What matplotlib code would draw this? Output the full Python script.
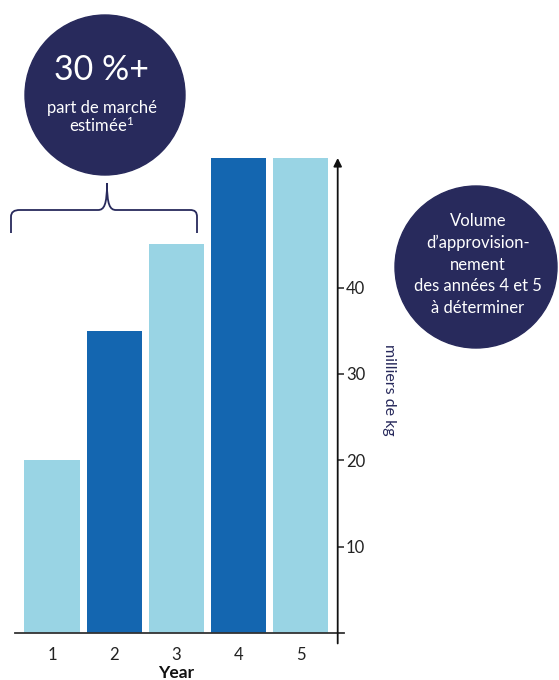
import matplotlib.pyplot as plt
from matplotlib.patches import Circle, PathPatch
from matplotlib.path import Path

plt.rcParams['font.family'] = ['Lato', 'DejaVu Sans']
plt.rcParams['mathtext.fontset'] = 'custom'
plt.rcParams['mathtext.rm'] = 'Lato'
plt.rcParams['mathtext.it'] = 'Lato:italic'
plt.rcParams['mathtext.bf'] = 'Lato:bold'

# data
years = [1, 2, 3, 4, 5]
year_labels = ['1', '2', '3', '4', '5']
volumes = [20, 35, 45, 55, 55]          # milliers de kg
ytick_vals = [10, 20, 30, 40]

LIGHT = '#99D4E4'
DARK = '#1466B0'
NAVY = '#282A5C'
bar_colors = [LIGHT, DARK, LIGHT, DARK, LIGHT]

W, H = 559, 680
fig = plt.figure(figsize=(W / 100, H / 100), dpi=100)

# main bar axes (pixel box: x 14.8..337.7, y 158..633)
ax = fig.add_axes([14.8 / W, (H - 633) / H, 322.9 / W, 475 / H])
ax.bar(years, volumes, width=0.89, color=bar_colors)
ax.set_xlim(0.4, 5.6)
ax.set_ylim(0, 55)

for s in ax.spines.values():
    s.set_visible(False)

# axes lines: baseline and right axis with arrow
ax.plot([0, 1.018], [0, 0], color='#333333', lw=1.3, transform=ax.transAxes, clip_on=False)
ax.annotate('', xy=(1, 1.0), xytext=(1, -0.022), xycoords='axes fraction',
            arrowprops=dict(arrowstyle='-|>', color='#111111', lw=1.3,
                            mutation_scale=12, shrinkA=0, shrinkB=0))

ax.yaxis.tick_right()
ax.set_yticks(ytick_vals)
ax.set_yticklabels([str(v) for v in ytick_vals])
ax.tick_params(axis='y', direction='out', length=4, width=1.2, color='#333333',
               labelsize=12, labelcolor='#222222', pad=2)
ax.set_xticks(years)
ax.set_xticklabels(year_labels)
ax.tick_params(axis='x', length=0, labelsize=12, labelcolor='#222222', pad=10)
ax.set_xlabel('Year', fontsize=12.5, fontweight='bold', color='#111111', va='center')
ax.xaxis.set_label_coords(0.5, (633 - 673) / 475)

ax.yaxis.set_label_position('right')
ax.set_ylabel('milliers de kg', rotation=270, color=NAVY, fontsize=11.5, va='center')
ax.yaxis.set_label_coords((389 - 14.8) / 322.9, (633 - 390) / 475)

# overlay for circles and brace, in pixel coordinates
ov = fig.add_axes([0, 0, 1, 1], zorder=5)
ov.set_xlim(0, W)
ov.set_ylim(H, 0)
ov.axis('off')
ov.patch.set_alpha(0)

ov.add_patch(Circle((105, 95), 80, color=NAVY))
ov.text(101, 80, '30 %+', color='white', fontsize=24.5, ha='center', va='baseline')
ov.text(102, 113, 'part de marché', color='white', fontsize=12, ha='center', va='baseline')
ov.text(102, 132, 'estimée$^{\\mathrm{1}}$', color='white', fontsize=12,
        ha='center', va='baseline')

ov.add_patch(Circle((476, 267), 81, color=NAVY))
right_lines = ['Volume', 'd\u2019approvision-', 'nement', 'des années 4 et 5', 'à déterminer']
for i, t in enumerate(right_lines):
    ov.text(478, 226 + i * 21.8, t, color='white', fontsize=12, ha='center', va='baseline')

verts = [(11, 233), (11, 217), (11, 212), (14, 210), (20, 210), (98, 210),
         (104, 210), (107, 205), (107, 183),
         (107, 205), (110, 210), (116, 210), (190, 210),
         (195, 210), (197, 212), (197, 217), (197, 233)]
codes = [Path.MOVETO, Path.LINETO, Path.CURVE4, Path.CURVE4, Path.CURVE4, Path.LINETO,
         Path.CURVE4, Path.CURVE4, Path.CURVE4,
         Path.CURVE4, Path.CURVE4, Path.CURVE4, Path.LINETO,
         Path.CURVE4, Path.CURVE4, Path.CURVE4, Path.LINETO]
ov.add_patch(PathPatch(Path(verts, codes), fill=False, edgecolor=NAVY, lw=1.3))

fig.savefig('out.png', dpi=100)
